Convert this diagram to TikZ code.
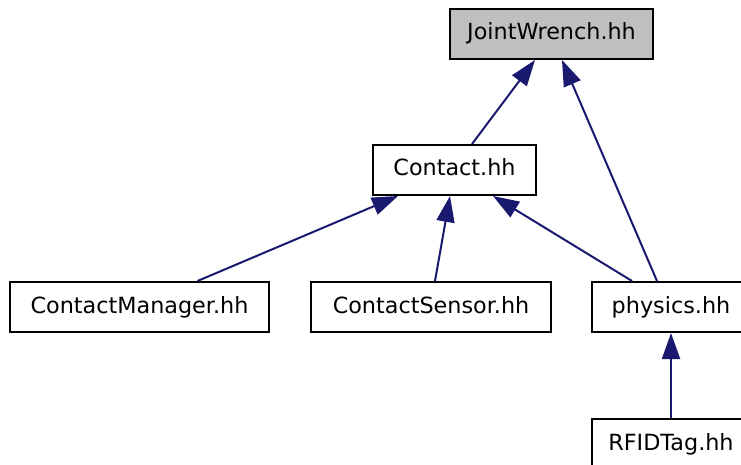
\documentclass[tikz,border=0pt]{standalone}
\usepackage{fontspec}
\setmainfont{DejaVu Sans}
\usetikzlibrary{arrows.meta}
\definecolor{edgeblue}{HTML}{191970}
\definecolor{hdrgray}{HTML}{BFBFBF}
\tikzset{
  filebox/.style={draw=black, line width=2pt, fill=white, minimum height=50pt, inner sep=0pt, text height=16.5pt, text depth=4.5pt, font=\fontsize{22.3}{25}\selectfont},
  edge/.style={draw=edgeblue, line width=2pt, -{Triangle[length=26pt,width=18pt]}}
}
\begin{document}
\begin{tikzpicture}[x=1pt,y=-1pt]
\useasboundingbox (0,0) rectangle (741,465);
\fill[white] (0,0) rectangle (741,465);
\node[filebox, fill=hdrgray, minimum width=203pt] (jw) at (551.5,34) {JointWrench.hh};
\node[filebox, minimum width=163pt] (c) at (454.5,170) {Contact.hh};
\node[filebox, minimum width=259pt] (cm) at (139.5,307) {ContactManager.hh};
\node[filebox, minimum width=240pt] (cs) at (431,307) {ContactSensor.hh};
\node[filebox, minimum width=158pt] (ph) at (671,307) {physics.hh};
\node[filebox, minimum width=158pt] (rf) at (671,444) {RFIDTag.hh};
\draw[edge] ([xshift=17.5pt]c.north) -- ([xshift=-16.5pt]jw.south);
\draw[edge] ([xshift=-14pt]ph.north) -- ([xshift=10.5pt]jw.south);
\draw[edge] ([xshift=58pt]cm.north) -- ([xshift=-56.5pt]c.south);
\draw[edge] ([xshift=4pt]cs.north) -- ([xshift=-4.5pt]c.south);
\draw[edge] ([xshift=-39pt]ph.north) -- ([xshift=38.5pt]c.south);
\draw[edge] (rf.north) -- (ph.south);
\end{tikzpicture}
\end{document}
